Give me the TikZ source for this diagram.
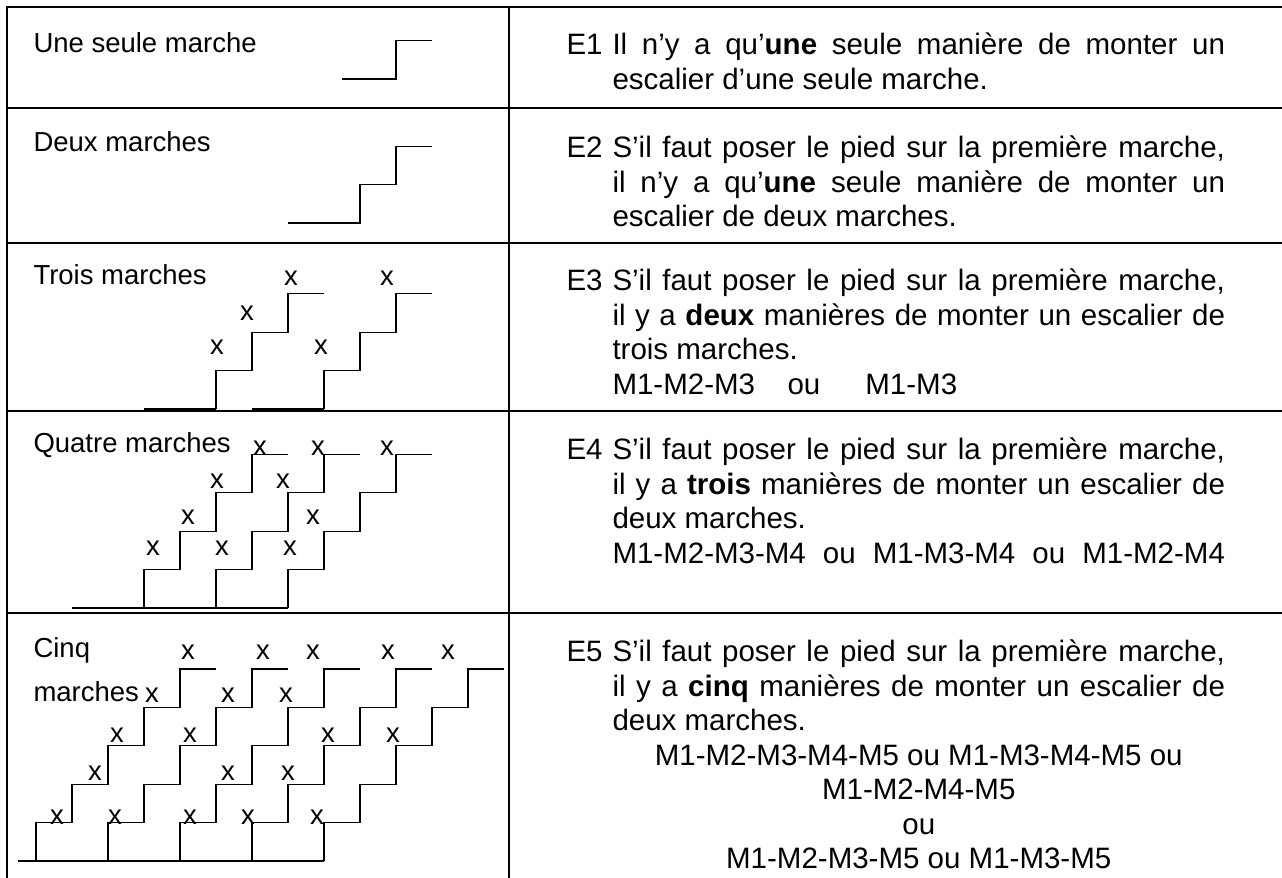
\documentclass[tikz,border=0pt]{standalone}
\usepackage{fontspec}
\setmainfont{Liberation Sans}
\newcommand{\treadw}{36}
\newcommand{\riseh}{38.4}
\tikzset{
  tableline/.style={line width=0.8pt},
  stair/.style={line width=0.5pt},
  xmark/.style={inner sep=0pt},
  rowname/.style={anchor=base west, inner sep=0pt},
  elabel/.style={rowname, font=\fontsize{11.8}{13.8}\selectfont},
  desc/.style={anchor=base west, inner sep=0pt, text width=245pt, align=justify,
    font=\fontsize{11.8}{13.8}\selectfont},
}
\begin{document}
\begin{tikzpicture}[x=0.4pt, y=-0.4pt, font=\fontsize{11}{13.8}\selectfont]
\useasboundingbox (0,0) rectangle (1282,878);
\draw[tableline] (7,878) -- (7,7.3) -- (1282,7.3);
\draw[tableline] (509,7.3) -- (509,878);
\foreach \ry in {108,243,411,613}
  \draw[tableline] (7,\ry) -- (1282,\ry);

\node[rowname] (r1) at (33,53) {Une seule marche};
\node[rowname] (r2) at (33,152) {Deux marches};
\node[rowname] (r3) at (33,285) {Trois marches};
\node[rowname] (r4) at (33,453) {Quatre marches};
\node[rowname] (r5a) at (33,658) {Cinq};
\node[rowname] (r5b) at (33,702) {marches};

\draw[stair] (342,79) -- (396,79) |- ++(\treadw,-\riseh);
\draw[stair] (288,223) -- (360,223) |- ++(\treadw,-\riseh) |- ++(\treadw,-\riseh);
\foreach \s in {6,9} {
  \draw[stair, line width=1pt] ({(\s-2)*\treadw},409) -- ({\s*\treadw},409);
  \draw[stair] ({\s*\treadw},409) |- ++(\treadw,-\riseh) |- ++(\treadw,-\riseh) |- ++(\treadw,-\riseh);
}
\draw[stair] (72,608) -- (288,608);
\foreach \s in {4,6,8}
  \draw[stair] ({\s*\treadw},608) |- ++(\treadw,-\riseh) |- ++(\treadw,-\riseh) |- ++(\treadw,-\riseh) |- ++(\treadw,-\riseh);
\draw[stair] (18,861) -- (324,861);
\foreach \s in {1,3,5,7,9}
  \draw[stair] ({\s*\treadw},861) |- ++(\treadw,-\riseh) |- ++(\treadw,-\riseh) |- ++(\treadw,-\riseh) |- ++(\treadw,-\riseh) |- ++(\treadw,-\riseh);

\foreach \px/\py [count=\i] in {217/347, 247/313, 291/278, 321/347, 387/278}
  \node[xmark] (x3-\i) at (\px,\py) {x};
\foreach \px/\py [count=\i] in {153/548, 188/517, 217/481, 260/448, 222/548, 283/481, 318/448, 290/548, 313/517, 387/448}
  \node[xmark] (x4-\i) at (\px,\py) {x};
\foreach \px/\py [count=\i] in {57/817, 95/773, 117/735, 152/695, 188/652,
    115/817, 190/735, 228/695, 263/652,
    190/817, 228/773, 286/695, 313/652,
    248/817, 288/773, 328/735, 388/652,
    317/817, 393/735, 448/652}
  \node[xmark] (x5-\i) at (\px,\py) {x};

\node[elabel] (e1) at (566,55) {E1};
\node[desc] (t1) at (612,55) {Il n’y a qu’\textbf{une} seule manière de monter un\linebreak escalier d’une seule marche.};
\node[elabel] (e2) at (566,158) {E2};
\node[desc] (t2) at (612,158) {S’il faut poser le pied sur la première marche,\linebreak il n’y a qu’\textbf{une} seule manière de monter un\linebreak escalier de deux marches.};
\node[elabel] (e3) at (566,291) {E3};
\node[desc] (t3) at (612,291) {S’il faut poser le pied sur la première marche,\linebreak il y a \textbf{deux} manières de monter un escalier de\linebreak trois marches.\par M1-M2-M3\hspace{13pt}ou\hspace{18pt}M1-M3};
\node[elabel] (e4) at (566,460) {E4};
\node[desc] (t4) at (612,460) {S’il faut poser le pied sur la première marche,\linebreak il y a \textbf{trois} manières de monter un escalier de\linebreak deux marches.\par\hbox to \linewidth{M1-M2-M3-M4\hfill ou\hfill M1-M3-M4\hfill ou\hfill M1-M2-M4}};
\node[elabel] (e5) at (566,662) {E5};
\node[desc] (t5) at (612,662) {S’il faut poser le pied sur la première marche,\linebreak il y a \textbf{cinq} manières de monter un escalier de\linebreak deux marches.\par\centering M1-M2-M3-M4-M5 ou M1-M3-M4-M5 ou\par M1-M2-M4-M5\par ou\par M1-M2-M3-M5 ou M1-M3-M5\par};
\end{tikzpicture}
\end{document}
